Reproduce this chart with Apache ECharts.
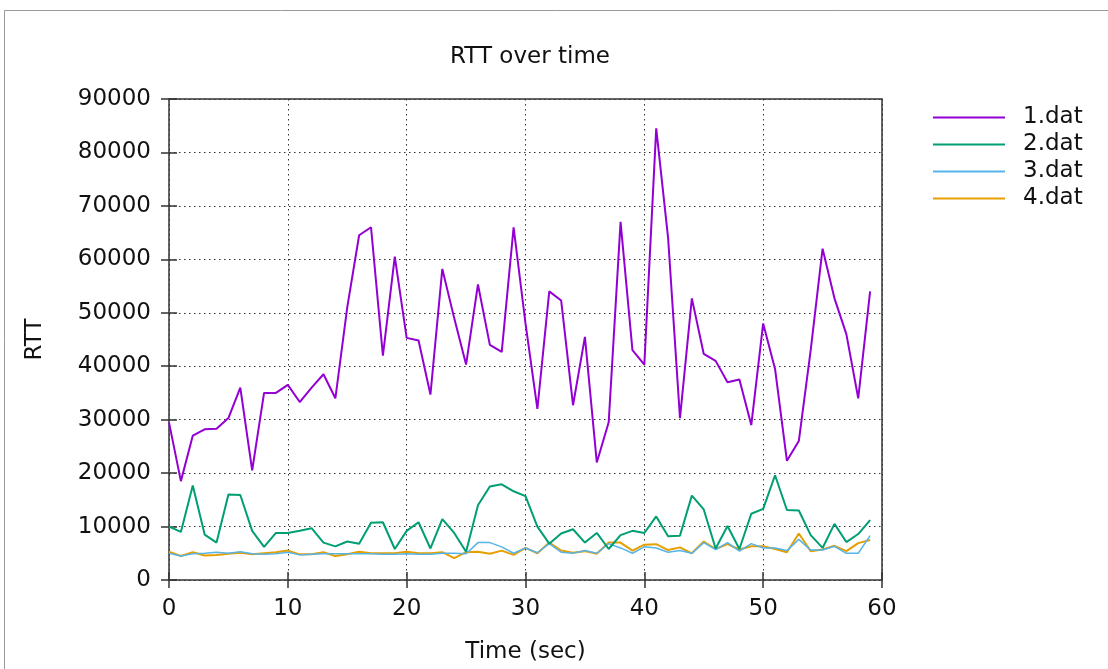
<!DOCTYPE html>
<html><head><meta charset="utf-8">
<script src="https://cdn.jsdelivr.net/npm/echarts@6/dist/echarts.min.js"></script>
<style>html,body{margin:0;padding:0;background:#fff}#c{width:1108px;height:669px}</style>
</head><body><div id="c"></div>
<script>
const times = Array.from({length:60},(_,i)=>i);
const s1 = [29500,18500,27000,28200,28300,30300,36000,20500,35000,35000,36500,33300,36000,38500,34000,51000,64500,66000,42000,60500,45300,44800,34700,58200,49000,40300,55300,44000,42700,66000,48000,32000,54000,52300,32700,45500,22000,29500,67000,43000,40300,84500,64000,30300,52700,42300,41000,37000,37500,29000,48000,39500,22300,26000,43000,62000,52700,46000,34000,54000];
const s2 = [10000,9000,17700,8500,7000,16000,15900,9200,6200,8800,8800,9200,9700,7000,6300,7200,6800,10700,10800,5800,9200,10800,5900,11400,8800,5300,14000,17500,17900,16600,15700,10000,6800,8700,9500,7000,8800,5800,8400,9200,8800,11900,8200,8300,15800,13200,5900,10100,5800,12400,13300,19600,13100,13000,8400,6000,10500,7100,8600,11200];
const s3 = [5000,4500,4900,5000,5200,5000,5300,4900,4800,4900,5200,4700,4800,4900,4900,4900,4900,4900,4800,4800,4900,4800,4800,5000,5000,4900,7000,7000,6200,5000,6000,5100,6800,5200,5000,5500,5000,6800,6000,5000,6200,6000,5200,5500,5000,7000,5700,7000,5400,6800,6000,6000,5500,7600,5600,5600,6300,5000,5000,8300];
const s4 = [5300,4500,5200,4600,4700,4900,5100,4800,5000,5200,5500,4800,4800,5200,4500,4800,5300,5000,5000,5000,5300,5000,5000,5200,4100,5200,5300,4900,5500,4700,6000,5000,7000,5500,5100,5400,4900,7000,7000,5500,6600,6700,5600,6100,5000,7200,5800,6700,5700,6300,6300,5800,5200,8700,5400,5700,6400,5400,6900,7500];
const names = ['1.dat','2.dat','3.dat','4.dat'];
const colors = ['#9400d3','#009e73','#56b4e9','#e69f00'];
const seriesData = [s1,s2,s3,s4];
const FONT = 'DejaVu Sans';
const FS = 23;
const chart = echarts.init(document.getElementById('c'), null, {renderer:'canvas'});
const gridLine = {show:true, lineStyle:{color:'#333', type:[1.5,3.5], width:1}};
const tickIn = {show:true, inside:true, length:8, lineStyle:{color:'#333', width:1.5}};
chart.setOption({
  animation:false,
  backgroundColor:'#fff',
  title:{text:'RTT over time', left:525, top:41, textAlign:'center',
    textStyle:{fontFamily:FONT, fontSize:FS, fontWeight:'normal', color:'#111'}},
  graphic:[{type:'rect', shape:{x:4.5,y:10.5,width:1200,height:800}, style:{fill:'none', stroke:'#999', lineWidth:1}, silent:true}],
  legend:{left:928, top:99, orient:'vertical', itemWidth:72, itemHeight:2, itemGap:0,
    icon:'rect', textStyle:{fontFamily:FONT, fontSize:FS, color:'#111', lineHeight:27, padding:[0,0,0,13]},
    data:names},
  grid:{left:169, right:226, top:99, bottom:88, show:true, borderColor:'#333', borderWidth:1.5, containLabel:false},
  xAxis:[{type:'value', min:0, max:60, interval:10, name:'Time (sec)', nameLocation:'middle', nameGap:61,
    nameTextStyle:{fontFamily:FONT, fontSize:FS, color:'#111'},
    axisLine:{show:false}, axisTick:tickIn, splitLine:gridLine,
    axisLabel:{fontFamily:FONT, fontSize:FS, color:'#111', margin:18}},
    {type:'value', min:0, max:60, interval:10, position:'top', axisLine:{show:false}, axisTick:tickIn, axisLabel:{show:false}, splitLine:{show:false}}],
  yAxis:[{type:'value', min:0, max:90000, interval:10000, name:'RTT', nameLocation:'middle', nameGap:122, nameRotate:90,
    nameTextStyle:{fontFamily:FONT, fontSize:FS, color:'#111'},
    axisLine:{show:false}, axisTick:tickIn, splitLine:gridLine,
    axisLabel:{fontFamily:FONT, fontSize:FS, color:'#111', margin:18, formatter:v=>String(v)}},
    {type:'value', min:0, max:90000, interval:10000, position:'right', axisLine:{show:false}, axisTick:tickIn, axisLabel:{show:false}, splitLine:{show:false}}],
  series: seriesData.map((d,i)=>({
    name:names[i], type:'line', data:times.map((t,j)=>[t,d[j]]), showSymbol:false, symbol:'none',
    lineStyle:{color:colors[i], width:i===2?1.5:2}, itemStyle:{color:colors[i]}, z:10-i
  }))
});
</script></body></html>
